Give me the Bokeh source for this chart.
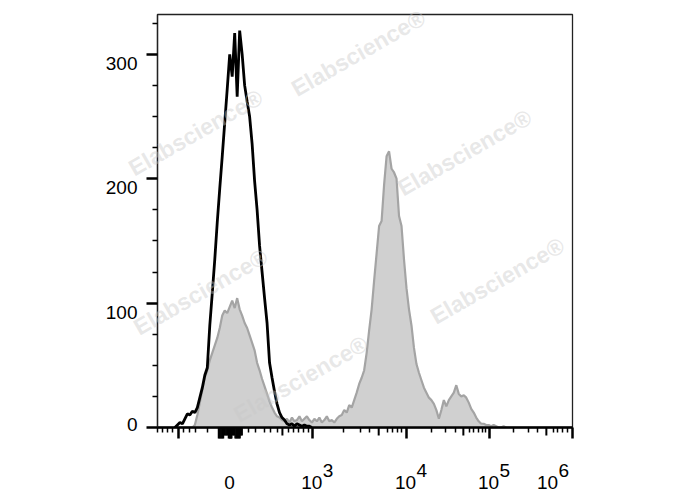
import numpy as np
from bokeh.plotting import figure
from bokeh.models import Range1d, FixedTicker
from bokeh.core.properties import value
from bokeh.embed import file_html
from bokeh.resources import INLINE

# ---------------- data (x in display units 0..1000 of the biexponential axis) ----------------
bin_width = 6

black_start = 42
black_counts = [0, 2, 4, 3, 7, 11, 10, 13, 12, 16, 24, 32, 42, 48, 82, 108, 135, 165, 192, 218,
                245, 272, 300, 282, 317, 266, 319, 300, 275, 262, 250, 228, 198, 175, 146, 125,
                104, 84, 52, 40, 29, 19, 12, 8, 6, 3, 2, 3, 1, 3, 2, 1, 2, 1, 1, 0]

gray_start = 84
gray_counts = [0, 2, 10, 20, 30, 40, 46, 54, 60, 66, 72, 80, 90, 94, 92, 97, 102, 96, 104, 95,
               90, 84, 80, 74, 68, 62, 52, 46, 39, 33, 27, 21, 16, 12, 9, 8, 6, 5, 7, 4,
               8, 5, 6, 9, 5, 7, 9, 6, 4, 7, 5, 8, 4, 6, 9, 5, 6, 4, 7, 9,
               10, 14, 12, 18, 16, 22, 28, 35, 40, 46, 60, 78, 95, 118, 140, 162, 166, 195, 218, 222,
               208, 205, 200, 170, 162, 135, 112, 95, 82, 64, 51, 44, 38, 32, 28, 24, 22, 19, 14, 7,
               14, 22, 17, 22, 25, 28, 34, 27, 25, 26, 24, 20, 15, 12, 8, 5, 3, 3, 2, 2,
               1, 2, 1, 0, 0, 1, 0]

# axis ticks (display units)
x_major_ticks = [51, 176, 374, 600, 800, 1000]
x_medium_ticks = [301, 533, 737, 937]
x_minor_ticks = [0, 12, 24, 36, 63, 77, 92, 120, 219, 236, 258, 272, 289, 316, 328, 340, 352, 364,
                 448, 489, 511, 554, 566, 578, 588, 660, 694, 718, 752, 762, 774, 783, 790,
                 858, 894, 916, 954, 964, 976, 988]
zero_cluster_long = list(range(147, 161, 2)) + list(range(171, 181, 2)) + list(range(187, 200, 2))
zero_cluster_short = list(range(161, 171, 2)) + list(range(181, 187, 2)) + list(range(200, 206, 2))

x_label_pos = [176, 374, 600, 800, 1000]
x_label_base = ["0", "10", "10", "10", "10"]
x_label_exp = ["", "3", "4", "5", "6"]

y_major_ticks = [0, 100, 200, 300]
y_minor_ticks = [25, 50, 75, 125, 150, 175, 225, 250, 275, 325]
y_labels = ["0", "100", "200", "300"]

watermark_text = "Elabscience®"
watermark_x = [484, 92, 740, 104, 819, 345]
watermark_y = [301, 237, 221, 109, 118, 39]

# ---------------- figure ----------------
X_MAX = 1000
Y_MAX = 332
W, H = 688, 490
ML, MR, MT, MB = 157, 116, 14, 63
frame_h = H - MT - MB
px_per_y = frame_h / Y_MAX

p = figure(width=W, height=H, output_backend="svg", toolbar_location=None,
           x_range=Range1d(0, X_MAX), y_range=Range1d(0, Y_MAX),
           min_border_left=ML, min_border_right=MR, min_border_top=MT, min_border_bottom=MB)
p.xgrid.visible = False
p.ygrid.visible = False
p.outline_line_color = "#222222"
p.outline_line_width = 1.3
p.background_fill_color = "white"
p.border_fill_color = "white"

# filled (stained) histogram
gx = gray_start + bin_width * np.arange(len(gray_counts))
p.varea(x=gx, y1=0, y2=gray_counts, fill_color="#d0d0d0")
p.line(x=gx, y=gray_counts, line_color="#a4a4a4", line_width=2.2)

# control histogram
bx = black_start + bin_width * np.arange(len(black_counts))
p.line(x=bx, y=black_counts, line_color="black", line_width=2.8)

# axes
xa = p.xaxis[0]
xa.ticker = FixedTicker(ticks=x_major_ticks, minor_ticks=x_minor_ticks)
xa.axis_line_color = "black"
xa.axis_line_width = 2.5
xa.major_tick_in = 0
xa.major_tick_out = 11
xa.major_tick_line_width = 2.5
xa.minor_tick_in = 0
xa.minor_tick_out = 5
xa.minor_tick_line_width = 1.5
xa.major_label_text_color = None

ya = p.yaxis[0]
ya.ticker = FixedTicker(ticks=y_major_ticks, minor_ticks=y_minor_ticks)
ya.axis_line_color = "#222222"
ya.axis_line_width = 1.3
ya.major_tick_in = 0
ya.major_tick_out = 11
ya.major_tick_line_width = 2.5
ya.minor_tick_in = 0
ya.minor_tick_out = 5
ya.minor_tick_line_width = 1.5
ya.major_label_text_color = None

# extra tick levels on the x axis (medium ticks and dense linear region around zero)
def tick_marks(xs, length_px, width):
    xs = list(xs)
    p.segment(x0=xs, y0=[0] * len(xs), x1=xs, y1=[-length_px / px_per_y] * len(xs),
              line_color="black", line_width=width, level="overlay")

tick_marks(x_medium_ticks, 8, 2)
tick_marks(zero_cluster_long, 11, 1.5)
tick_marks(zero_cluster_short, 8, 1.5)

FONT = "Liberation Sans"
FS = "19px"

# y tick labels
p.text(x=[0] * len(y_major_ticks), y=y_major_ticks, text=y_labels,
       x_offset=-20, y_offset=[(-3 if v == 0 else 9) for v in y_major_ticks],
       text_align="right", text_baseline="middle",
       text_font=value(FONT), text_font_size=value(FS), text_color="black", level="overlay")

# x tick labels (with superscript exponents)
shifts = [(-24 if v >= X_MAX else 0) for v in x_label_pos]
p.text(x=x_label_pos, y=[0] * len(x_label_pos), text=x_label_base,
       x_offset=[s - 1 for s in shifts], y_offset=55,
       text_align="center", text_baseline="alphabetic",
       text_font=value(FONT), text_font_size=value(FS), text_color="black", level="overlay")
exp_idx = [i for i, e in enumerate(x_label_exp) if e]
p.text(x=[x_label_pos[i] for i in exp_idx], y=[0] * len(exp_idx),
       text=[x_label_exp[i] for i in exp_idx],
       x_offset=[shifts[i] + 10 for i in exp_idx], y_offset=43,
       text_align="left", text_baseline="alphabetic",
       text_font=value(FONT), text_font_size=value(FS), text_color="black", level="overlay")

# watermarks
p.text(x=watermark_x, y=watermark_y, text=[watermark_text] * len(watermark_x), angle=0.52,
       text_align="center", text_baseline="middle",
       text_font=value(FONT), text_font_style="bold", text_font_size=value("23px"),
       text_color="#c8c8c8", text_alpha=0.42, level="overlay")

open("out.html", "w").write(file_html(p, INLINE))
